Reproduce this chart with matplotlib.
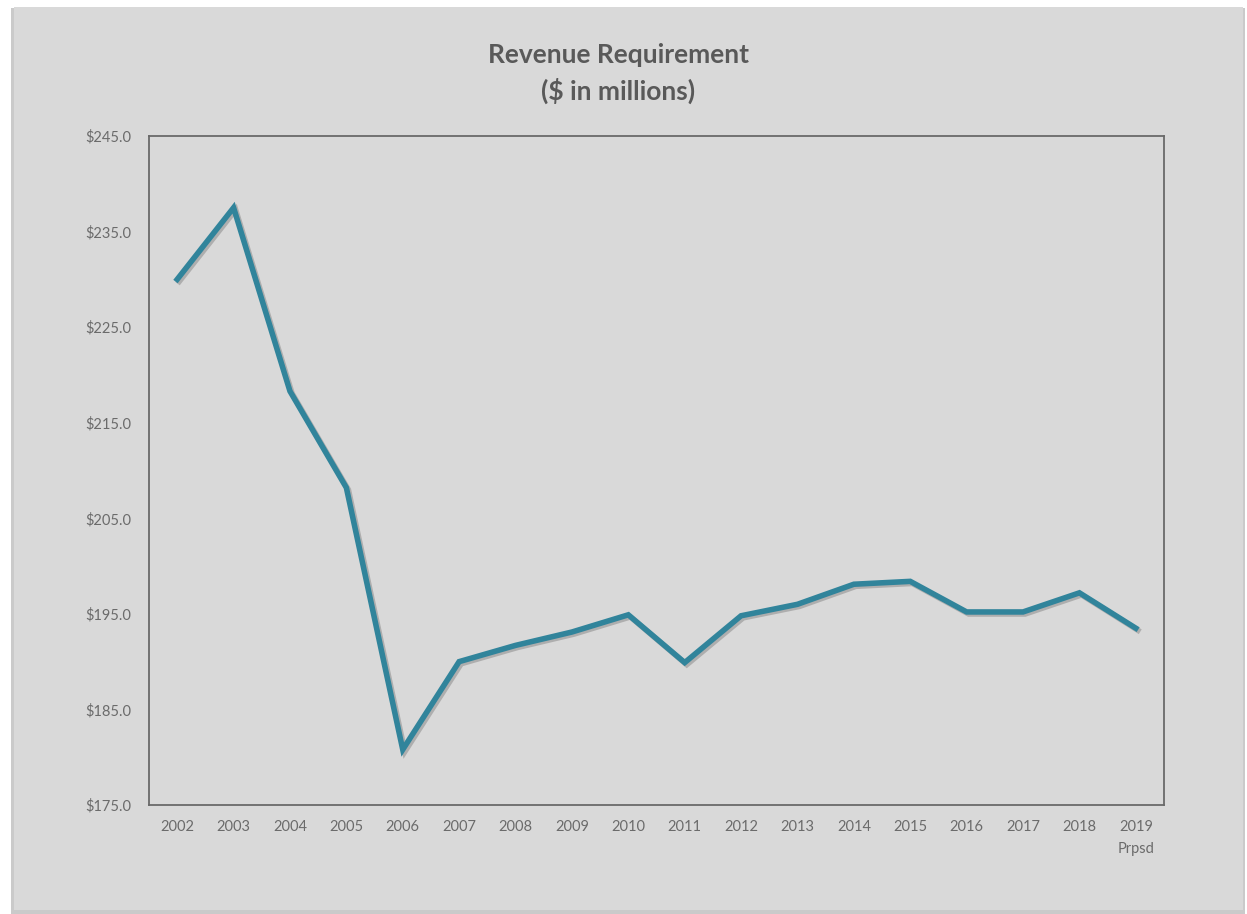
import matplotlib
matplotlib.use("Agg")
import matplotlib.pyplot as plt
import matplotlib.patheffects as pe
from matplotlib.patches import Rectangle

plt.rcParams['font.family'] = ['Lato', 'DejaVu Sans']

# data
years = ["2002", "2003", "2004", "2005", "2006", "2007", "2008", "2009", "2010",
         "2011", "2012", "2013", "2014", "2015", "2016", "2017", "2018", "2019\nPrpsd"]
revenue = [230.0, 237.5, 218.3, 208.2, 180.8, 190.0, 191.7, 193.1, 194.9,
           189.9, 194.8, 196.0, 198.1, 198.4, 195.2, 195.2, 197.2, 193.5]
yticks = [175, 185, 195, 205, 215, 225, 235, 245]

bg = '#d9d9d9'
txt = '#6b6b6b'

fig = plt.figure(figsize=(12.47, 9.14), dpi=100)
fig.patch.set_facecolor('white')

# gray panel with soft shadow
W, H = 1247, 914
fig.patches.append(Rectangle((11 / W, 1 - 914 / H), 1234 / W, 906 / H,
                             transform=fig.transFigure, facecolor='#a8a8a8',
                             edgecolor='none', zorder=-10, alpha=0.6))
fig.patches.append(Rectangle((14 / W, 1 - 910 / H), 1229 / W, 903 / H,
                             transform=fig.transFigure, facecolor=bg,
                             edgecolor='none', zorder=-9))

ax = fig.add_axes([149 / W, 1 - 805 / H, 1015 / W, 669 / H])
ax.set_zorder(1)
ax.set_facecolor(bg)

x = range(len(years))
ax.plot(x, revenue, color='#31849b', linewidth=4.0, solid_joinstyle='miter',
        path_effects=[pe.SimpleLineShadow(offset=(1.5, -1.5), shadow_color='#7a7a7a', alpha=0.45),
                      pe.Normal()])

ax.set_xlim(-0.5, len(years) - 0.5)
ax.set_ylim(175, 245)
ax.set_yticks(yticks)
ax.set_yticklabels(['${:.1f}'.format(v) for v in yticks])
ax.set_xticks(list(x))
ax.set_xticklabels(years, linespacing=1.7)
ax.tick_params(length=0, labelsize=10.5, labelcolor=txt)
ax.tick_params(axis='y', pad=13)
ax.tick_params(axis='x', pad=11)

for s in ax.spines.values():
    s.set_color('#6a6a6a')
    s.set_linewidth(1.3)

fig.text(618 / W, 1 - 55 / H, 'Revenue Requirement', ha='center', va='center',
         fontsize=19, fontweight='bold', color='#595959')
fig.text(618 / W, 1 - 91 / H, '($ in millions)', ha='center', va='center',
         fontsize=19, fontweight='bold', color='#595959')

fig.savefig('out.png', dpi=100, facecolor=fig.get_facecolor())
